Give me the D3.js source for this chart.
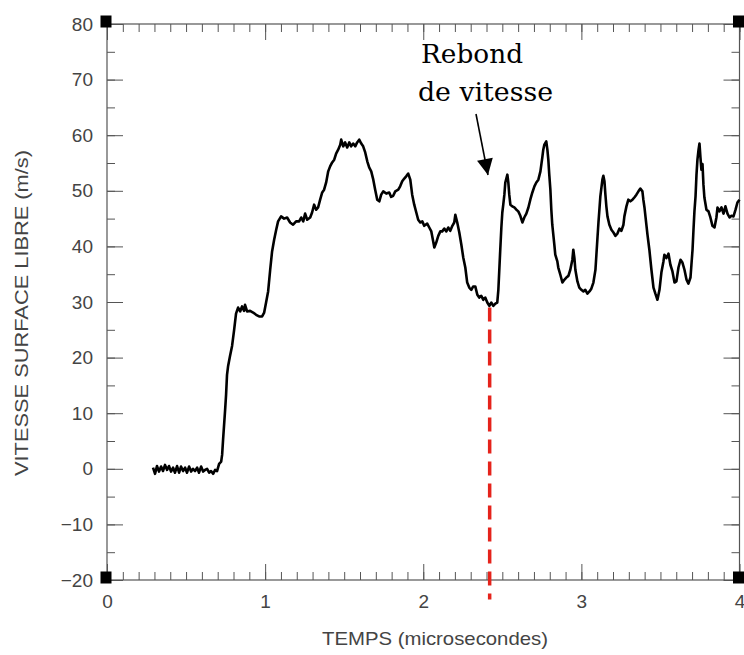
<!DOCTYPE html>
<html>
<head>
<meta charset="utf-8">
<script src="https://cdn.jsdelivr.net/npm/d3@7/dist/d3.min.js"></script>
<style>
  html, body { margin: 0; padding: 0; background: #fff; }
  svg { display: block; }
</style>
</head>
<body>
<svg id="chart" width="744" height="655"></svg>
<script>
// ---- data (time in microseconds, free-surface velocity in m/s) ----
const times = [
  0.291,0.304,0.316,0.329,0.342,0.354,0.367,0.380,0.392,0.405,0.418,0.430,0.443,0.456,0.468,0.481,0.494,0.506,0.519,0.532,
  0.544,0.557,0.570,0.582,0.595,0.608,0.620,0.633,0.646,0.658,0.671,0.684,0.696,0.709,0.722,0.728,0.734,0.747,0.753,0.759,
  0.766,0.778,0.791,0.804,0.816,0.829,0.842,0.854,0.867,0.873,0.886,0.905,0.924,0.943,0.962,0.981,0.994,1.006,1.019,1.032,
  1.044,1.057,1.070,1.082,1.101,1.120,1.139,1.158,1.177,1.196,1.215,1.228,1.241,1.253,1.266,1.285,1.297,1.310,1.323,1.335,
  1.348,1.361,1.373,1.386,1.399,1.411,1.424,1.437,1.449,1.462,1.475,1.481,1.494,1.506,1.519,1.532,1.544,1.557,1.570,1.582,
  1.595,1.608,1.620,1.633,1.646,1.658,1.671,1.684,1.696,1.709,1.722,1.734,1.747,1.766,1.785,1.797,1.810,1.823,1.842,1.854,
  1.867,1.880,1.892,1.905,1.918,1.930,1.943,1.956,1.968,1.981,1.994,2.006,2.025,2.038,2.051,2.063,2.070,2.082,2.095,2.108,
  2.120,2.133,2.146,2.158,2.171,2.184,2.196,2.203,2.215,2.228,2.241,2.253,2.266,2.278,2.291,2.304,2.316,2.329,2.342,2.354,
  2.367,2.380,2.392,2.405,2.418,2.430,2.443,2.456,2.468,2.475,2.481,2.487,2.494,2.500,2.506,2.513,2.519,2.532,2.538,2.544,
  2.551,2.563,2.576,2.589,2.601,2.614,2.627,2.639,2.652,2.665,2.677,2.690,2.703,2.715,2.728,2.741,2.753,2.759,2.766,2.778,
  2.785,2.791,2.797,2.804,2.810,2.816,2.829,2.835,2.848,2.854,2.867,2.880,2.892,2.905,2.918,2.930,2.943,2.949,2.956,2.962,
  2.975,2.987,3.000,3.013,3.025,3.038,3.051,3.063,3.076,3.089,3.095,3.101,3.108,3.114,3.120,3.127,3.133,3.139,3.146,3.152,
  3.158,3.165,3.177,3.190,3.203,3.215,3.228,3.241,3.253,3.266,3.272,3.285,3.297,3.310,3.323,3.335,3.348,3.361,3.373,3.386,
  3.392,3.399,3.411,3.418,3.430,3.443,3.456,3.468,3.481,3.494,3.506,3.519,3.525,3.538,3.551,3.563,3.576,3.589,3.601,3.614,
  3.627,3.639,3.652,3.665,3.677,3.690,3.696,3.703,3.709,3.715,3.722,3.728,3.734,3.741,3.747,3.753,3.759,3.766,3.772,3.778,
  3.791,3.804,3.816,3.829,3.842,3.854,3.861,3.873,3.886,3.899,3.911,3.924,3.937,3.949,3.962,3.975,3.987,4.000
];
const speeds = [
  0.2,-0.9,0.5,-0.5,0.4,-0.4,0.7,-0.2,0.5,-0.5,0.2,-0.7,0.5,-0.7,0.4,-0.4,0.2,-0.7,0.4,-0.5,
  0.0,-0.4,0.2,-0.7,0.4,-0.5,-0.2,0.0,-0.7,-0.4,-0.9,-0.2,-0.4,0.9,1.3,2.5,5.2,10.6,13.3,16.9,
  18.5,20.3,22.1,25.0,27.9,29.0,28.3,29.2,28.4,29.5,28.3,28.4,28.1,27.7,27.4,27.4,28.1,29.9,31.9,35.8,
  39.1,41.2,43.0,44.5,45.4,45.0,45.2,44.3,43.9,44.5,44.5,45.2,44.5,45.9,44.8,45.2,46.1,47.5,46.6,47.0,
  48.4,49.7,50.2,51.5,53.5,54.4,55.1,55.6,56.7,57.4,58.3,59.2,58.0,58.7,57.8,58.7,58.0,58.5,58.0,58.7,
  59.2,58.5,58.0,56.9,55.3,54.2,53.5,52.0,50.2,48.4,48.1,49.3,49.9,49.5,49.7,48.9,49.1,49.9,50.2,50.8,
  51.7,52.2,52.6,53.1,52.0,49.3,47.5,46.1,44.8,44.3,44.5,43.7,44.1,43.4,42.7,40.9,39.8,40.7,41.9,42.7,
  42.7,43.2,42.7,43.4,42.8,43.7,44.3,45.7,44.3,42.5,40.3,38.0,36.2,33.5,32.6,32.2,32.8,32.8,31.3,30.8,
  31.1,30.4,30.8,29.9,29.3,29.9,29.3,29.7,29.9,32.2,35.8,39.4,43.4,46.1,47.5,49.3,51.5,52.9,51.5,49.3,
  47.5,47.2,47.0,46.6,46.3,45.5,44.3,45.2,45.9,47.0,48.4,49.7,50.8,51.5,52.0,53.5,56.0,57.4,58.3,58.9,
  57.4,55.6,52.9,50.2,46.6,43.9,40.3,38.5,37.3,36.2,34.9,33.5,34.0,34.4,34.7,35.8,37.6,39.4,37.9,35.8,
  33.7,32.6,32.2,31.9,32.2,31.5,31.9,32.4,33.5,35.8,38.5,41.2,44.3,46.6,49.0,50.6,52.0,52.7,51.7,49.3,
  47.2,45.4,43.9,43.0,42.5,41.9,42.3,43.2,42.8,43.9,45.4,47.2,48.4,48.1,48.4,48.8,49.3,49.9,50.4,49.9,
  48.4,47.0,43.9,42.1,39.4,35.8,32.6,31.5,30.4,32.2,35.3,37.3,38.5,37.9,38.7,36.7,35.5,33.5,33.7,36.2,
  37.6,37.1,35.8,34.0,33.3,34.4,36.7,39.4,43.0,46.3,49.0,52.9,55.6,57.4,58.5,56.0,53.8,54.8,51.1,48.8,
  46.6,46.3,45.2,43.7,43.4,45.2,47.0,46.3,47.0,45.9,47.2,45.9,45.2,45.5,45.4,46.6,47.9,48.4
];
const xTickValues = [0, 1, 2, 3, 4];
const yTickValues = [-20, -10, 0, 10, 20, 30, 40, 50, 60, 70, 80];
const xDomain = [0, 4];
const yDomain = [-20, 80];
const xTitle = "TEMPS (microsecondes)";
const yTitle = "VITESSE SURFACE LIBRE (m/s)";
const annotationLines = ["Rebond", "de vitesse"];
const reboundTime = 2.42;
const reboundSpan = [29, -23.5];

// ---- layout ----
const svg = d3.select("#chart");
const plotL = 107, plotR = 739.5, plotT = 24, plotB = 580;
const x = d3.scaleLinear().domain(xDomain).range([plotL, plotR]);
const y = d3.scaleLinear().domain(yDomain).range([plotB, plotT]);
const axisColor = "#555";
const labelFont = "'Liberation Sans', Arial, sans-serif";

function styleAxis(g) {
  g.select(".domain").remove();
  g.selectAll(".tick line").attr("stroke", axisColor).attr("stroke-width", 1);
  g.selectAll(".tick text").attr("fill", "#444").style("font-family", labelFont).style("font-size", "19px");
}
const minorX = d3.range(0, 41).map(i => i / 10);
const minorY = d3.range(-20, 81, 5);

// bottom
svg.append("g").attr("transform", `translate(0,${plotB})`)
  .call(d3.axisBottom(x).tickValues(minorX).tickSizeInner(-8).tickSizeOuter(0).tickFormat(""))
  .call(styleAxis);
svg.append("g").attr("transform", `translate(0,${plotB})`)
  .call(d3.axisBottom(x).tickValues(xTickValues).tickSizeInner(-16).tickSizeOuter(0).tickPadding(15).tickFormat(d3.format("d")))
  .call(styleAxis);
// top
svg.append("g").attr("transform", `translate(0,${plotT})`)
  .call(d3.axisTop(x).tickValues(minorX).tickSizeInner(-8).tickSizeOuter(0).tickFormat(""))
  .call(styleAxis);
svg.append("g").attr("transform", `translate(0,${plotT})`)
  .call(d3.axisTop(x).tickValues(xTickValues).tickSizeInner(-16).tickSizeOuter(0).tickFormat(""))
  .call(styleAxis);
// left
svg.append("g").attr("transform", `translate(${plotL},0)`)
  .call(d3.axisLeft(y).tickValues(minorY).tickSizeInner(-8).tickSizeOuter(0).tickFormat(""))
  .call(styleAxis);
svg.append("g").attr("transform", `translate(${plotL},0)`)
  .call(d3.axisLeft(y).tickValues(yTickValues).tickSizeInner(-16).tickSizeOuter(0).tickPadding(14).tickFormat(d => d < 0 ? "\u2212" + Math.abs(d) : d))
  .call(styleAxis);
// right
svg.append("g").attr("transform", `translate(${plotR},0)`)
  .call(d3.axisRight(y).tickValues(minorY).tickSizeInner(-8).tickSizeOuter(0).tickFormat(""))
  .call(styleAxis);
svg.append("g").attr("transform", `translate(${plotR},0)`)
  .call(d3.axisRight(y).tickValues(yTickValues).tickSizeInner(-16).tickSizeOuter(0).tickFormat(""))
  .call(styleAxis);

// frame
svg.append("rect").attr("x", plotL).attr("y", plotT).attr("width", plotR - plotL).attr("height", plotB - plotT)
  .attr("fill", "none").attr("stroke", axisColor).attr("stroke-width", 1.2);

// corner squares
[[xDomain[0], yDomain[1]], [xDomain[1], yDomain[1]], [xDomain[0], yDomain[0]], [xDomain[1], yDomain[0]]].forEach(([cx, cy]) => {
  svg.append("rect").attr("x", x(cx) - 6.5).attr("y", y(cy) - 8.5).attr("width", 11).attr("height", 12).attr("fill", "#000");
});

// titles
svg.append("text").attr("x", 435).attr("y", 645).attr("text-anchor", "middle")
  .attr("textLength", 226).attr("lengthAdjust", "spacingAndGlyphs")
  .style("font-family", labelFont).style("font-size", "19px").attr("fill", "#444").text(xTitle);
svg.append("text").attr("transform", "translate(28,313) rotate(-90)").attr("text-anchor", "middle")
  .attr("textLength", 326).attr("lengthAdjust", "spacingAndGlyphs")
  .style("font-family", labelFont).style("font-size", "19px").attr("fill", "#444").text(yTitle);

// red dashed rebound marker
svg.append("line").attr("x1", x(reboundTime)).attr("x2", x(reboundTime))
  .attr("y1", y(reboundSpan[0])).attr("y2", y(reboundSpan[1]))
  .attr("stroke", "#e5231b").attr("stroke-width", 3.5).attr("stroke-dasharray", "14,8");

// curve
const n = Math.min(times.length, speeds.length);
const pts = d3.range(n).map(i => [times[i], speeds[i]]);
const line = d3.line().x(d => x(d[0])).y(d => y(d[1]));
svg.append("path").datum(pts).attr("d", line).attr("fill", "none")
  .attr("stroke", "#000").attr("stroke-width", 2.6).attr("stroke-linejoin", "round");

// annotation
const ann = svg.append("g").style("font-family", "'DejaVu Serif', 'Liberation Serif', serif").style("font-size", "26px");
ann.append("text").attr("x", 421).attr("y", 63).attr("textLength", 102).attr("lengthAdjust", "spacingAndGlyphs").text(annotationLines[0]);
ann.append("text").attr("x", 418).attr("y", 101).attr("textLength", 135).attr("lengthAdjust", "spacingAndGlyphs").text(annotationLines[1]);
svg.append("defs").append("marker").attr("id", "ah").attr("viewBox", "0 0 10 10")
  .attr("refX", 10).attr("refY", 5).attr("markerWidth", 18).attr("markerHeight", 16)
  .attr("markerUnits", "userSpaceOnUse").attr("orient", "auto")
  .append("path").attr("d", "M0,0 L10,5 L0,10 Z").attr("fill", "#000");
svg.append("line").attr("x1", 476).attr("y1", 114).attr("x2", 488).attr("y2", 175)
  .attr("stroke", "#000").attr("stroke-width", 1.6).attr("marker-end", "url(#ah)");
</script>
</body>
</html>
